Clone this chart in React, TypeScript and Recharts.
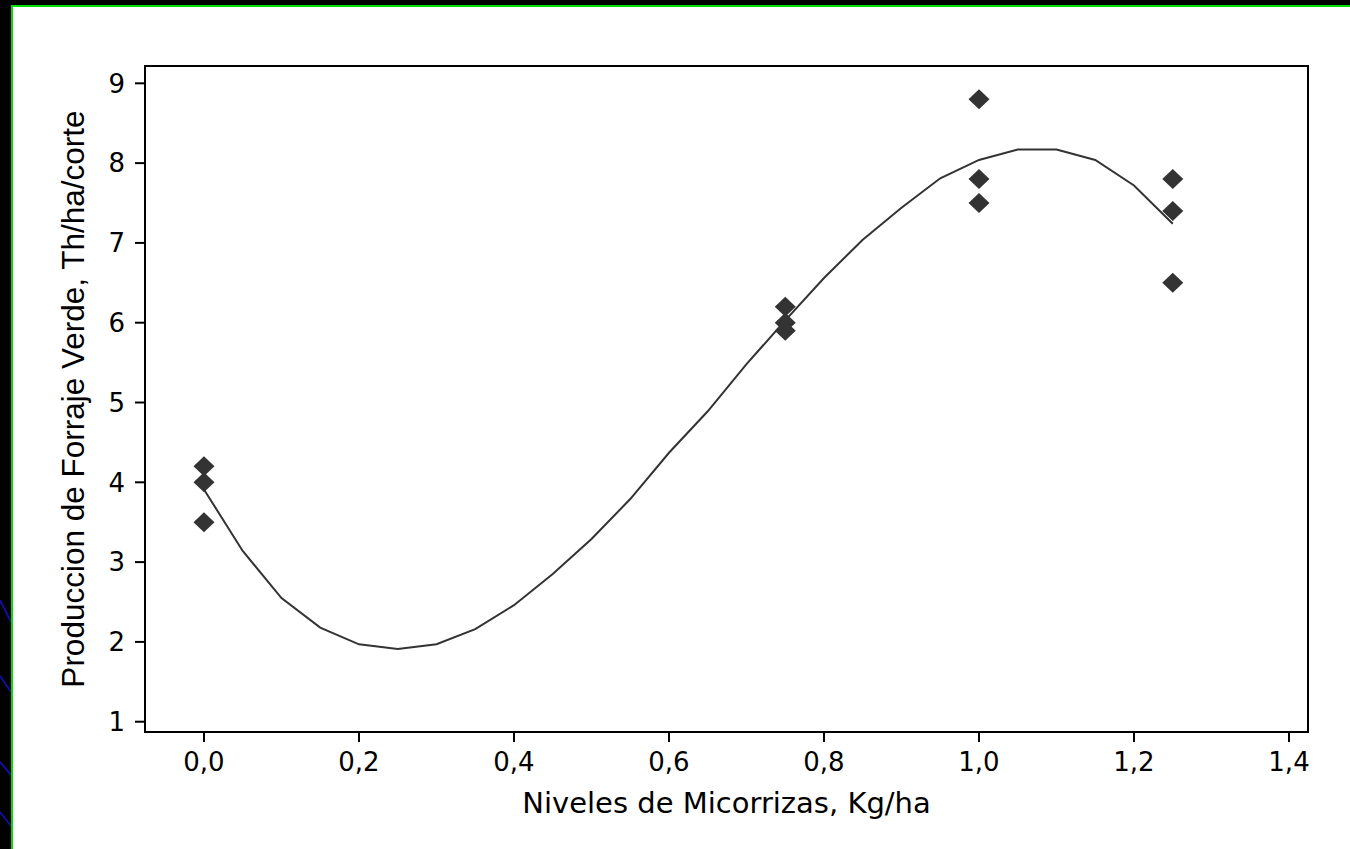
import {
  ComposedChart,
  Line,
  ReferenceArea,
  Scatter,
  XAxis,
  YAxis,
} from "recharts";

// observed values (3 reps per level)
const doseLevels = [0, 0, 0, 0.75, 0.75, 0.75, 1.0, 1.0, 1.0, 1.25, 1.25, 1.25];
const forageYield = [4.2, 4.0, 3.5, 6.2, 6.0, 5.9, 8.8, 7.8, 7.5, 7.8, 7.4, 6.5];

// fitted curve
const fitX = [
  0, 0.05, 0.1, 0.15, 0.2, 0.25, 0.3, 0.35, 0.4, 0.45, 0.5, 0.55, 0.6, 0.65,
  0.7, 0.75, 0.8, 0.85, 0.9, 0.95, 1.0, 1.05, 1.1, 1.15, 1.2, 1.25,
];
const fitY = [
  3.91, 3.14, 2.55, 2.18, 1.97, 1.91, 1.97, 2.16, 2.46, 2.85, 3.29, 3.79, 4.37,
  4.89, 5.48, 6.03, 6.56, 7.04, 7.44, 7.81, 8.04, 8.17, 8.17, 8.04, 7.72, 7.24,
];

const xTicks = [0, 0.2, 0.4, 0.6, 0.8, 1.0, 1.2, 1.4];
const yTicks = [1, 2, 3, 4, 5, 6, 7, 8, 9];

const xDomain: [number, number] = [-0.0761, 1.4245];
const yDomain: [number, number] = [0.871, 9.217];

const points = doseLevels.map((x, i) => ({ x, y: forageYield[i] }));
const curve = fitX.map((x, i) => ({ x, y: fitY[i] }));

const INK = "#333333";

const Diamond = (props: any) => {
  const { cx, cy } = props;
  if (cx == null || cy == null) return null;
  const w = 10.5;
  const h = 10;
  return (
    <polygon
      points={`${cx},${cy - h} ${cx + w},${cy} ${cx},${cy + h} ${cx - w},${cy}`}
      fill={INK}
    />
  );
};

const fmtX = (v: number) => v.toFixed(1).replace(".", ",");

const tickStyle = { fill: "#000", fontSize: 26, fontFamily: "DejaVu Sans" };

export default function App() {
  return (
    <div
      style={{
        position: "fixed",
        left: 0,
        top: 0,
        width: 1350,
        height: 849,
        background: "#000",
        overflow: "hidden",
      }}
    >
      {/* slide frame */}
      <svg
        width={1350}
        height={849}
        style={{ position: "absolute", left: 0, top: 0 }}
      >
        <rect x={0} y={0} width={1350} height={849} fill="#000" />
        <line x1={0} y1={600} x2={11} y2={622} stroke="#1010a0" strokeWidth={2} />
        <line x1={0} y1={676} x2={11} y2={692} stroke="#1010a0" strokeWidth={2} />
        <line x1={0} y1={762} x2={11} y2={775} stroke="#1010a0" strokeWidth={2} />
        <line x1={0} y1={812} x2={11} y2={826} stroke="#1010a0" strokeWidth={2} />
        <rect x={11} y={5} width={1339} height={844} fill="#00e000" />
        <rect x={13} y={7} width={1337} height={842} fill="#fff" />
      </svg>

      <div style={{ position: "absolute", left: 0, top: 0 }}>
        <ComposedChart
          width={1350}
          height={849}
          margin={{ top: 66, right: 42, left: 0, bottom: 0 }}
        >
          <XAxis
            type="number"
            dataKey="x"
            domain={xDomain}
            allowDataOverflow
            ticks={xTicks}
            tickFormatter={fmtX}
            interval={0}
            height={117}
            tickSize={10}
            tickMargin={11}
            axisLine={{ stroke: "#000", strokeWidth: 2 }}
            tickLine={{ stroke: "#000", strokeWidth: 2 }}
            tick={tickStyle}
            label={{
              value: "Niveles de Micorrizas, Kg/ha",
              position: "insideTop",
              offset: 60,
              fill: "#000",
              fontSize: 29,
              fontFamily: "DejaVu Sans",
            }}
          />
          <YAxis
            type="number"
            domain={yDomain}
            allowDataOverflow
            ticks={yTicks}
            interval={0}
            width={145}
            tickSize={10}
            tickMargin={10}
            axisLine={{ stroke: "#000", strokeWidth: 2 }}
            tickLine={{ stroke: "#000", strokeWidth: 2 }}
            tick={tickStyle}
            label={{
              value: "Produccion de Forraje Verde, Th/ha/corte",
              angle: -90,
              position: "center",
              fill: "#000",
              fontSize: 31.5,
              fontFamily: "Liberation Sans",
            }}
          />
          {/* plot frame */}
          <ReferenceArea
            x1={xDomain[0]}
            x2={xDomain[1]}
            y1={yDomain[0]}
            y2={yDomain[1]}
            ifOverflow="visible"
            fill="none"
            fillOpacity={0}
            stroke="#000"
            strokeWidth={2}
            strokeOpacity={1}
          />
          <Scatter
            data={points}
            dataKey="y"
            shape={<Diamond />}
            isAnimationActive={false}
          />
          <Line
            data={curve}
            dataKey="y"
            type="linear"
            stroke={INK}
            strokeWidth={2}
            dot={false}
            activeDot={false}
            isAnimationActive={false}
          />
        </ComposedChart>
      </div>
    </div>
  );
}
